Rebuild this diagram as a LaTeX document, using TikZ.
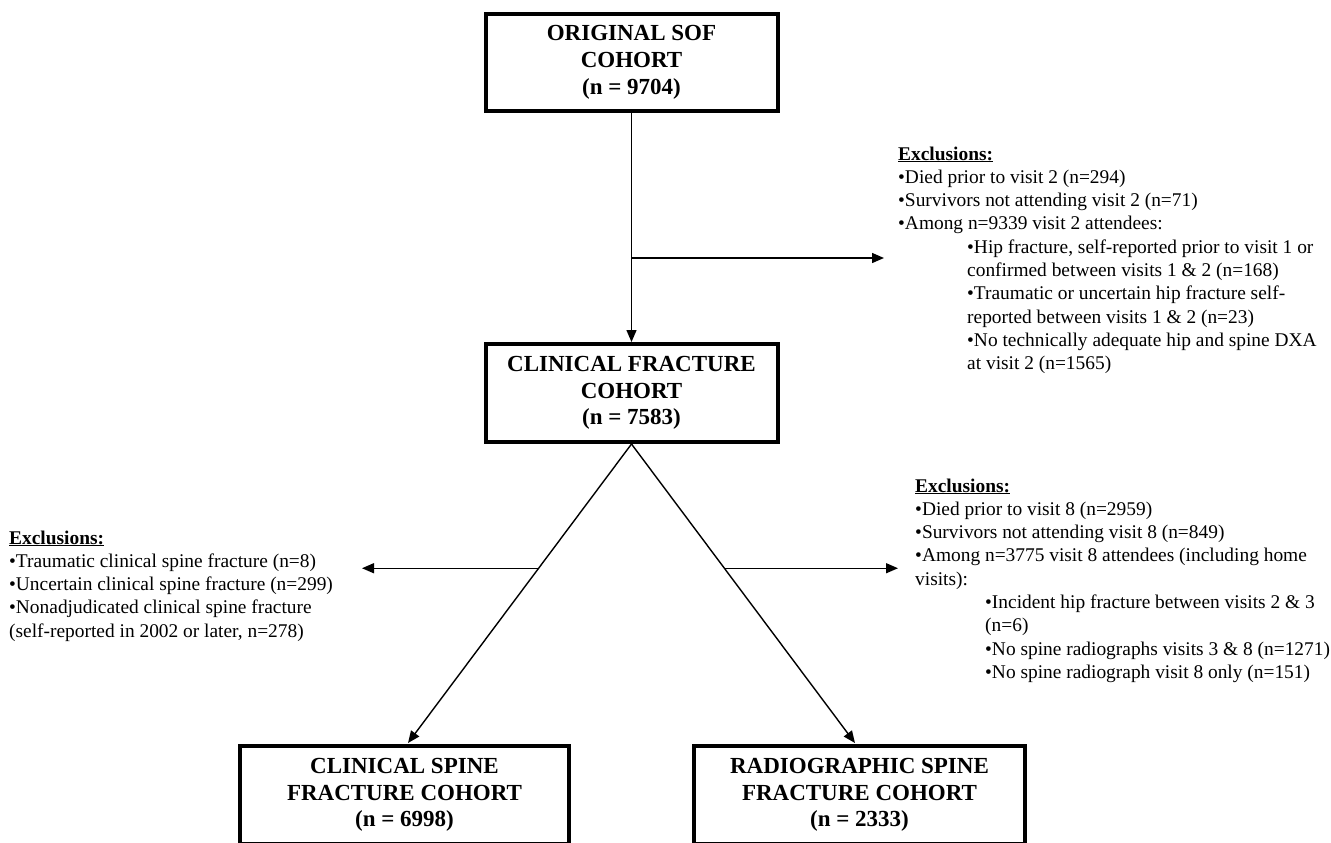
\documentclass[tikz,border=0pt]{standalone}
\usepackage{fontspec}
\setmainfont{Liberation Serif}
\usetikzlibrary{arrows.meta,calc}
\begin{document}
\begin{tikzpicture}[x=1pt,y=-1pt,
  cbox/.style={draw=black,line width=4pt,inner sep=0pt,align=center,
    font=\fontsize{23}{26.7}\selectfont\bfseries},
  conn/.style={draw=black,line width=1.4pt,-{Triangle[length=12pt,width=10pt]}},
  excl/.style={inner sep=0pt,anchor=base west,align=left,
    font=\fontsize{19.4}{23.3}\selectfont}
]
\clip (0,0) rectangle (1331,843);
\useasboundingbox (0,0) rectangle (1331,843);

% boxes
\node[cbox,minimum width=292pt,minimum height=97pt] (orig) at (631.5,62.5)
  {ORIGINAL SOF\\COHORT\\(n = 9704)};
\node[cbox,minimum width=292pt,minimum height=98pt] (clin) at (631.5,393)
  {CLINICAL FRACTURE\\COHORT\\(n = 7583)};
\node[cbox,minimum width=329pt,minimum height=98pt] (cs) at (404.5,795)
  {CLINICAL SPINE\\FRACTURE COHORT\\(n = 6998)};
\node[cbox,minimum width=331pt,minimum height=98pt] (rs) at (859.5,795)
  {RADIOGRAPHIC SPINE\\FRACTURE COHORT\\(n = 2333)};

% exclusion texts (anchored at the baseline of their last line)
\node[excl] (ex1) at (898,369.7) {\underline{\textbf{Exclusions:}}\\
  •Died prior to visit 2 (n=294)\\
  •Survivors not attending visit 2 (n=71)\\
  •Among n=9339 visit 2 attendees:\\
  \hspace*{69pt}•Hip fracture, self-reported prior to visit 1 or\\
  \hspace*{69pt}confirmed between visits 1 \& 2 (n=168)\\
  \hspace*{69pt}•Traumatic or uncertain hip fracture self-\\
  \hspace*{69pt}reported between visits 1 \& 2 (n=23)\\
  \hspace*{69pt}•No technically adequate hip and spine DXA\\
  \hspace*{69pt}at visit 2 (n=1565)};

\node[excl] (ex2) at (9,637.2) {\underline{\textbf{Exclusions:}}\\
  •Traumatic clinical spine fracture (n=8)\\
  •Uncertain clinical spine fracture (n=299)\\
  •Nonadjudicated clinical spine fracture\\
  (self-reported in 2002 or later, n=278)};

\node[excl] (ex3) at (915,678.4) {\underline{\textbf{Exclusions:}}\\
  •Died prior to visit 8 (n=2959)\\
  •Survivors not attending visit 8 (n=849)\\
  •Among n=3775 visit 8 attendees (including home\\
  visits):\\
  \hspace*{70pt}•Incident hip fracture between visits 2 \& 3\\
  \hspace*{70pt}(n=6)\\
  \hspace*{70pt}•No spine radiographs visits 3 \& 8 (n=1271)\\
  \hspace*{70pt}•No spine radiograph visit 8 only (n=151)};

% connectors
\draw[conn] (orig.south) -- (clin.north);
\coordinate (b1) at (631.5,258);
\coordinate (e1) at (884,258);
\draw[conn] (b1) -- (e1);

\coordinate (apex) at (clin.south);
\coordinate (lt) at (408,743);
\coordinate (rt) at (855,743);
\draw[conn] (apex) -- (lt);
\draw[conn] (apex) -- (rt);

\coordinate (lb) at ($(apex)!0.4155!(lt)$);
\coordinate (rb) at ($(apex)!0.4155!(rt)$);
\coordinate (le) at (362,570);
\coordinate (re) at (898,570);
\draw[conn] (lb) -- (lb -| le);
\draw[conn] (rb) -- (rb -| re);
\end{tikzpicture}
\end{document}
